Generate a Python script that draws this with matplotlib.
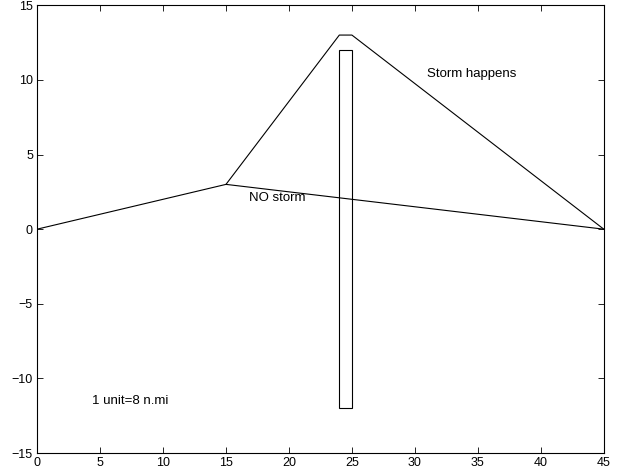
import matplotlib
matplotlib.use('Agg')
import matplotlib.pyplot as plt
from matplotlib.patches import Rectangle

plt.rcParams['font.family'] = ['Liberation Sans', 'DejaVu Sans']

# route without storm
no_storm_x = [0, 15, 45]
no_storm_y = [0, 3, 0]
# route when the storm happens
storm_x = [15, 24, 25, 45]
storm_y = [3, 13, 13, 0]
# storm band
band_x = [24, 25]
band_y = [-12, 12]

fig = plt.figure(figsize=(6.18, 4.73), dpi=100)
ax = fig.add_axes([0.06, 0.042, 0.917, 0.947])

ax.plot(no_storm_x, no_storm_y, color='k', lw=0.8)
ax.plot(storm_x, storm_y, color='k', lw=0.8)
ax.add_patch(Rectangle((band_x[0], band_y[0]), band_x[1] - band_x[0], band_y[1] - band_y[0],
                       fill=False, edgecolor='k', lw=0.8))

ax.text(31, 10.4, 'Storm happens', fontsize=9.5, va='center')
ax.text(16.8, 2.1, 'NO storm', fontsize=9.5, va='center')
ax.text(4.4, -11.5, '1 unit=8 n.mi', fontsize=9.5, va='center')

ax.set_xlim(0, 45)
ax.set_ylim(-15, 15)
ax.set_xticks(range(0, 46, 5))
ax.set_yticks(range(-15, 16, 5))
ax.tick_params(direction='in', top=True, right=True, labelsize=9, length=4, width=0.6, pad=3)
for s in ax.spines.values():
    s.set_linewidth(0.8)

fig.savefig('out.png', dpi=100)
